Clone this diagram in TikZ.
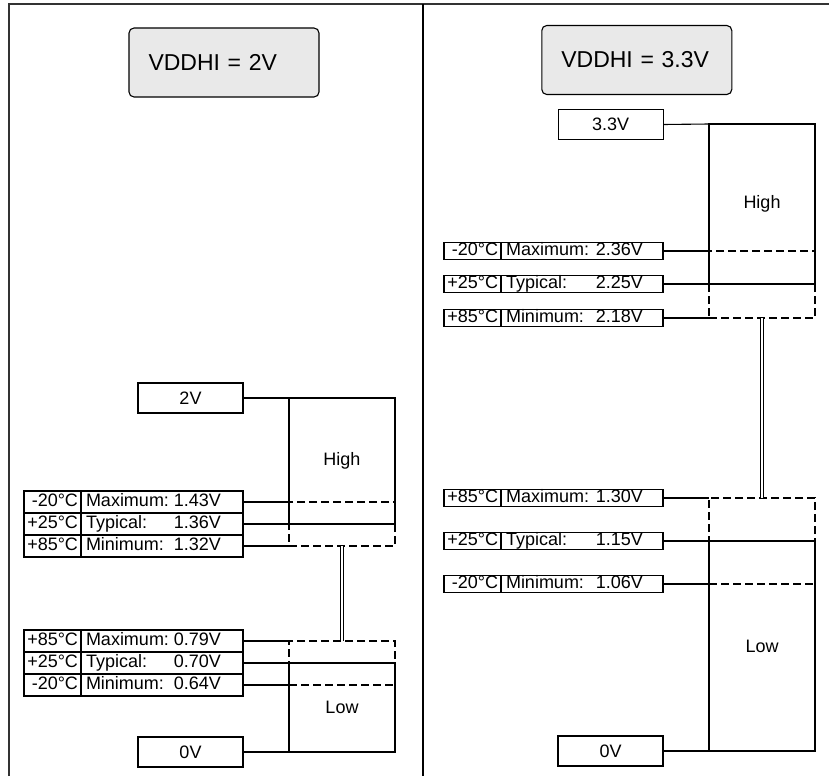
\documentclass[tikz,border=0pt]{standalone}
\usepackage{fontspec}
\setmainfont{Liberation Sans}

\begin{document}
\begin{tikzpicture}[x=1pt, y=-1pt, line width=1.1pt,
    every node/.style={font=\fontsize{18}{21}\selectfont},
    title/.style={draw, rounded corners=5pt, fill=gray!17, minimum width=190pt,
      minimum height=69pt, text width=151pt, align=left, inner xsep=19.5pt,
      font=\fontsize{23}{27}\selectfont},
    volt/.style={draw, minimum width=105pt, minimum height=30pt, inner sep=0pt, outer sep=0pt},
    zone/.style={draw, minimum width=106pt, inner sep=0pt, outer sep=0pt},
    band/.style={draw, dash pattern=on 8pt off 4pt, minimum width=106pt, inner sep=0pt, outer sep=0pt},
    temp/.style={draw, anchor=east, text width=51pt, align=right, inner xsep=3pt,
      inner ysep=0pt, outer sep=0pt, text height=13pt, text depth=3.5pt},
    val/.style={draw, anchor=west, text width=152pt, align=left, inner xsep=5pt,
      inner ysep=0pt, outer sep=0pt, text height=13pt, text depth=3.5pt},
    tall/.style={minimum height=22pt},
    short/.style={minimum height=17pt},
    link/.style={double, double distance=2.5pt, line width=1pt}]
  \useasboundingbox (0,0) rectangle (829,776);

  % frame
  \draw[line width=1.5pt, black!80] (9,776) -- (9,4) -- (829,4);
  \draw (423,4) -- (423,776);

  % VDDHI = 2V
  \node[title] (lt) at (224,62.5) {VDDHI = 2V};

  \node[band] (lhband) at (342,524) [minimum height=44pt] {};
  \node[band] (llband) at (342,663) [minimum height=44pt] {};
  \node[zone] (lhigh) at (342,461) [minimum height=126pt] {High};
  \node[zone] (llow) at (342,707.5) [minimum height=89pt] {Low};

  \node[volt] (v2) at (190.5,398) {2V};
  \node[volt] (v0l) at (190.5,752) {0V};

  \node[temp, tall] (lhmaxt) at (81,502) {-20°C};
  \node[val, tall] (lhmaxv) at (lhmaxt.east) {\makebox[135pt]{Maximum:\hfill 1.43V}};
  \node[temp, tall] (lhtypt) at (81,524) {+25°C};
  \node[val, tall] (lhtypv) at (lhtypt.east) {\makebox[135pt]{Typical:\hfill 1.36V}};
  \node[temp, tall] (lhmint) at (81,546) {+85°C};
  \node[val, tall] (lhminv) at (lhmint.east) {\makebox[135pt]{Minimum:\hfill 1.32V}};

  \node[temp, tall] (llmaxt) at (81,641) {+85°C};
  \node[val, tall] (llmaxv) at (llmaxt.east) {\makebox[135pt]{Maximum:\hfill 0.79V}};
  \node[temp, tall] (lltypt) at (81,663) {+25°C};
  \node[val, tall] (lltypv) at (lltypt.east) {\makebox[135pt]{Typical:\hfill 0.70V}};
  \node[temp, tall] (llmint) at (81,685) {-20°C};
  \node[val, tall] (llminv) at (llmint.east) {\makebox[135pt]{Minimum:\hfill 0.64V}};

  \draw (v2.east) -- (lhigh.north west);
  \draw (v0l.east) -- (llow.south west);
  \draw (lhmaxv.east) -- (lhband.north west);
  \draw (lhtypv.east) -- (lhigh.south west);
  \draw (lhminv.east) -- (lhband.south west);
  \draw (llmaxv.east) -- (llband.north west);
  \draw (lltypv.east) -- (llow.north west);
  \draw (llminv.east) -- (llband.south west);
  \draw[link] (lhband.south) -- (llband.north);

  % VDDHI = 3.3V
  \node[title] (rt) at (636.8,60) {VDDHI = 3.3V};

  \node[band] (rhband) at (762,284.5) [minimum height=67pt] {};
  \node[band] (rlband) at (762,541) [minimum height=86pt] {};
  \node[zone] (rhigh) at (762,204) [minimum height=160pt] {High};
  \node[zone] (rlow) at (762,646) [minimum height=210pt] {Low};

  \node[volt] (v33) at (610.7,124.5) {3.3V};
  \node[volt] (v0r) at (610.5,751) {0V};

  \node[temp, short] (rhmaxt) at (501,251) {-20°C};
  \node[val, short] (rhmaxv) at (rhmaxt.east) {\makebox[137pt]{Maximum:\hfill 2.36V}};
  \node[temp, short] (rhtypt) at (501,284) {+25°C};
  \node[val, short] (rhtypv) at (rhtypt.east) {\makebox[137pt]{Typical:\hfill 2.25V}};
  \node[temp, short] (rhmint) at (501,318) {+85°C};
  \node[val, short] (rhminv) at (rhmint.east) {\makebox[137pt]{Minimum:\hfill 2.18V}};

  \node[temp, short] (rlmaxt) at (501,498) {+85°C};
  \node[val, short] (rlmaxv) at (rlmaxt.east) {\makebox[137pt]{Maximum:\hfill 1.30V}};
  \node[temp, short] (rltypt) at (501,541) {+25°C};
  \node[val, short] (rltypv) at (rltypt.east) {\makebox[137pt]{Typical:\hfill 1.15V}};
  \node[temp, short] (rlmint) at (501,584) {-20°C};
  \node[val, short] (rlminv) at (rlmint.east) {\makebox[137pt]{Minimum:\hfill 1.06V}};

  \draw (v33.east) -- (rhigh.north west);
  \draw (v0r.east) -- (rlow.south west);
  \draw (rhmaxv.east) -- (rhband.north west);
  \draw (rhtypv.east) -- (rhigh.south west);
  \draw (rhminv.east) -- (rhband.south west);
  \draw (rlmaxv.east) -- (rlband.north west);
  \draw (rltypv.east) -- (rlow.north west);
  \draw (rlminv.east) -- (rlband.south west);
  \draw[link] (rhband.south) -- (rlband.north);
\end{tikzpicture}
\end{document}
